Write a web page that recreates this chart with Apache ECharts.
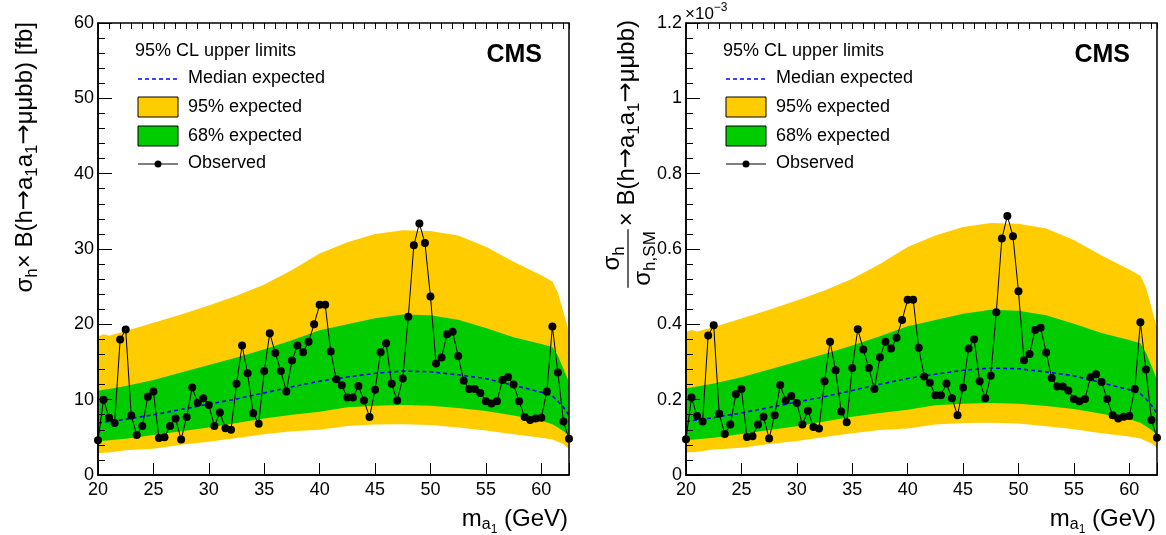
<!DOCTYPE html>
<html>
<head>
<meta charset="utf-8">
<script src="https://cdn.jsdelivr.net/npm/echarts@6/dist/echarts.min.js"></script>
<style>
html,body{margin:0;padding:0;background:#fff;}
#chart{width:1166px;height:535px;}
</style>
</head>
<body>
<div id="chart"></div>
<script>
// ---------------- data ----------------
const massPoints = [20,20.5,21,21.5,22,22.5,23,23.5,24,24.5,25,25.5,26,26.5,27,27.5,28,28.5,29,29.5,
  30,30.5,31,31.5,32,32.5,33,33.5,34,34.5,35,35.5,36,36.5,37,37.5,38,38.5,39,39.5,
  40,40.5,41,41.5,42,42.5,43,43.5,44,44.5,45,45.5,46,46.5,47,47.5,48,48.5,49,49.5,
  50,50.5,51,51.5,52,52.5,53,53.5,54,54.5,55,55.5,56,56.5,57,57.5,58,58.5,59,59.5,
  60,60.5,61,61.5,62,62.5];
// observed 95% CL upper limit, fb
const observedFb = [4.6,10.0,7.6,6.9,18.0,19.3,7.9,5.3,6.5,10.4,11.1,4.9,5.0,6.5,7.5,4.7,7.7,11.6,9.6,10.2,
  9.3,6.5,8.3,6.2,6.0,12.1,17.2,13.5,8.2,6.8,13.8,18.8,16.2,13.8,11.1,15.2,17.2,16.3,17.7,20.0,
  22.6,22.6,16.4,12.7,11.9,10.3,10.3,11.8,9.9,7.7,11.3,16.3,17.5,12.1,9.9,12.8,21.0,30.5,33.4,30.8,
  23.7,14.8,15.6,18.7,19.0,15.8,12.5,11.4,11.4,10.9,9.8,9.5,9.8,12.6,13.0,12.0,9.8,7.7,7.3,7.5,
  7.6,11.1,19.7,13.6,7.1,4.8];
// expected bands, fb
const bandMass   = [20,20.5,21,22.5,25,27.5,30,32.5,35,37.5,40,42.5,45,47.5,50,52.5,55,57.5,60,61,61.5,62,62.5];
const up95Fb     = [18.4,18.7,18.5,19.1,20.2,21.3,22.5,23.8,25.3,27.2,29.4,30.9,32.0,32.5,32.4,31.8,30.3,28.3,26.5,25.7,24.2,21.6,19.0];
const up68Fb     = [11.2,11.3,11.4,11.8,12.6,13.6,14.6,15.6,16.7,17.9,19.2,20.0,20.8,21.3,21.2,20.6,19.5,18.3,17.4,17.0,15.8,14.1,12.3];
const medianFb   = [6.9,7.0,7.1,7.4,8.0,8.7,9.4,10.1,10.9,11.7,12.45,13.0,13.5,13.8,13.7,13.3,12.8,11.9,11.0,10.5,9.8,9.0,7.9];
const down68Fb   = [4.5,4.55,4.6,4.8,5.3,5.8,6.3,6.9,7.5,8.0,8.4,9.0,9.2,9.3,9.2,8.9,8.5,7.9,7.2,6.75,6.3,5.8,5.2];
const down95Fb   = [2.9,2.95,3.0,3.3,3.5,4.0,4.4,4.9,5.4,5.8,6.0,6.5,6.7,6.75,6.65,6.3,5.9,5.4,4.95,4.7,4.4,4.1,3.5];
// SM Higgs cross section in fb; right panel is sigma/sigma_SM in units of 1e-3
const SIGMA_SM_FB = 48.58;
const RIGHT_SCALE = 1 / SIGMA_SM_FB;

const legendTexts = ['95% CL upper limits','Median expected','95% expected','68% expected','Observed'];

// ---------------- styling ----------------
const FONT = '"Liberation Sans", Arial, Helvetica, "DejaVu Sans", sans-serif';
const ARROW_FONT = '"DejaVu Sans", sans-serif';
const YELLOW = '#FFCC00', GREEN = '#00CC00', BLUE = '#0000FF';

const mctx = document.createElement('canvas').getContext('2d');
function measure(t, size, weight, fam) {
  mctx.font = (weight || 'normal') + ' ' + size + 'px ' + (fam || FONT);
  return mctx.measureText(t).width;
}
function textEl(t, x, y, size, opts) {
  opts = opts || {};
  return {
    type: 'text', x: x, y: y, silent: true, z: 100,
    style: {
      text: t, fill: '#000', fontSize: size, fontFamily: opts.fam || FONT,
      fontWeight: opts.weight || 'normal',
      align: opts.align || 'left', textAlign: opts.align || 'left',
      verticalAlign: 'middle', textVerticalAlign: 'middle'
    }
  };
}
function richLine(pieces, x0, y0, align) {
  const w = pieces.reduce((s, p) => s + measure(p.t, p.s, null, p.f), 0);
  let x = align === 'right' ? x0 - w : (align === 'center' ? x0 - w / 2 : x0);
  const out = [];
  pieces.forEach(p => {
    out.push(textEl(p.t, x, y0 + (p.dy || 0), p.s, { fam: p.f }));
    x += measure(p.t, p.s, null, p.f);
  });
  return { els: out, width: w };
}
function pairs(xs, ys, k) { return xs.map((x, i) => [x, ys[i] * k]); }

function panelSeries(p, k) {
  const areas = [[up95Fb, YELLOW], [up68Fb, GREEN], [down68Fb, YELLOW], [down95Fb, '#FFFFFF']];
  const s = areas.map(a => ({
    type: 'line', xAxisIndex: p, yAxisIndex: p, data: pairs(bandMass, a[0], k),
    symbol: 'none', showSymbol: false, silent: true, smooth: false,
    lineStyle: { width: 0 }, areaStyle: { color: a[1], opacity: 1 }, z: 2
  }));
  s.push({
    type: 'line', xAxisIndex: p, yAxisIndex: p, data: pairs(bandMass, medianFb, k),
    symbol: 'none', showSymbol: false, silent: true,
    lineStyle: { color: BLUE, width: 1.6, type: [4, 3] }, z: 3
  });
  s.push({
    type: 'line', xAxisIndex: p, yAxisIndex: p, data: pairs(massPoints, observedFb, k),
    symbol: 'circle', symbolSize: 8, showSymbol: true, clip: false, silent: true,
    lineStyle: { color: '#000', width: 1 }, itemStyle: { color: '#000' }, z: 4
  });
  return s;
}

function majorX(g) {
  return {
    type: 'value', gridIndex: g, min: 20, max: 62.5, interval: 5, z: 10,
    axisLine: { show: true, lineStyle: { color: '#000', width: 1.5 } },
    axisTick: { show: true, inside: true, length: 12, lineStyle: { color: '#000', width: 1 } },
    axisLabel: { color: '#000', fontSize: 18, fontFamily: FONT, margin: 6,
      formatter: v => (v % 5 === 0 && v <= 60) ? String(v) : '' },
    splitLine: { show: false }
  };
}
function minorX(g) {
  return {
    type: 'value', gridIndex: g, min: 20, max: 62.5, interval: 1, z: 10,
    axisLine: { show: false }, axisLabel: { show: false },
    axisTick: { show: true, inside: true, length: 6, lineStyle: { color: '#000', width: 1 } },
    splitLine: { show: false }
  };
}
function yAx(g, max, interval) {
  return {
    type: 'value', gridIndex: g, min: 0, max: max, interval: interval, z: 10,
    axisLine: { show: true, lineStyle: { color: '#000', width: 1.5 } },
    axisTick: { show: true, inside: true, length: 14, lineStyle: { color: '#000', width: 1 } },
    minorTick: { show: true, splitNumber: 5, length: 7, lineStyle: { color: '#000', width: 1 } },
    axisLabel: { color: '#000', fontSize: 18, fontFamily: FONT, margin: 4 },
    splitLine: { show: false }, minorSplitLine: { show: false }
  };
}

// ---------------- annotations ----------------
const graphics = [];
function legend(off) {
  graphics.push(textEl(legendTexts[0], 135 + off, 51, 18));
  graphics.push({ type: 'line', silent: true, z: 100, shape: { x1: 138 + off, y1: 79, x2: 178 + off, y2: 79 },
    style: { stroke: BLUE, lineWidth: 1.6, lineDash: [4, 3] } });
  graphics.push(textEl(legendTexts[1], 188 + off, 78, 18));
  graphics.push({ type: 'rect', silent: true, z: 100, shape: { x: 138 + off, y: 97, width: 40, height: 20 },
    style: { fill: YELLOW, stroke: '#000', lineWidth: 1 } });
  graphics.push(textEl(legendTexts[2], 188 + off, 107, 18));
  graphics.push({ type: 'rect', silent: true, z: 100, shape: { x: 138 + off, y: 126, width: 40, height: 20 },
    style: { fill: GREEN, stroke: '#000', lineWidth: 1 } });
  graphics.push(textEl(legendTexts[3], 188 + off, 136, 18));
  graphics.push({ type: 'line', silent: true, z: 100, shape: { x1: 138 + off, y1: 164, x2: 178 + off, y2: 164 },
    style: { stroke: '#000', lineWidth: 1 } });
  graphics.push({ type: 'circle', silent: true, z: 100, shape: { cx: 158 + off, cy: 164, r: 3.5 },
    style: { fill: '#000' } });
  graphics.push(textEl(legendTexts[4], 188 + off, 163, 18));
  graphics.push(textEl('CMS', 542 + off, 55, 25, { weight: 'bold', align: 'right' }));
  // x-axis title
  const xt = richLine([{ t: 'm', s: 24 }, { t: 'a', s: 16, dy: 6 }, { t: '1', s: 12, dy: 11 }, { t: ' (GeV)', s: 24 }],
    568 + off, 519, 'right');
  xt.els.forEach(e => graphics.push(e));
}
legend(0);
legend(588);

const ARW = { t: '→', s: 24, f: ARROW_FONT };
// left y title (rotated, aligned to top of axis)
(function () {
  const pieces = [
    { t: 'σ', s: 24 }, { t: 'h', s: 17, dy: 7 }, { t: '× B(h', s: 24 }, ARW, { t: 'a', s: 24 }, { t: '1', s: 17, dy: 7 },
    { t: 'a', s: 24 }, { t: '1', s: 17, dy: 7 }, ARW, { t: 'μμbb) [fb]', s: 24 }
  ];
  const r = richLine(pieces, 0, 0, 'right');
  graphics.push({ type: 'group', x: 25, y: 22, rotation: Math.PI / 2, children: r.els });
})();

// right y title with fraction
(function () {
  const num = [{ t: 'σ', s: 24 }, { t: 'h', s: 17, dy: 7 }];
  const den = [{ t: 'σ', s: 24 }, { t: 'h,SM', s: 17, dy: 7 }];
  const denW = den.reduce((s, p) => s + measure(p.t, p.s), 0);
  const fw = denW + 4;
  const rest = [{ t: '× B(h', s: 24 }, ARW, { t: 'a', s: 24 }, { t: '1', s: 17, dy: 7 }, { t: 'a', s: 24 },
    { t: '1', s: 17, dy: 7 }, ARW, { t: 'μμbb)', s: 24 }];
  const restW = rest.reduce((s, p) => s + measure(p.t, p.s, null, p.f), 0);
  const total = fw + 3 + restW;
  const children = [];
  richLine(num, fw / 2, -15, 'center').els.forEach(e => children.push(e));
  richLine(den, fw / 2, 16, 'center').els.forEach(e => children.push(e));
  children.push({ type: 'line', silent: true, shape: { x1: 0, y1: 1, x2: fw, y2: 1 }, style: { stroke: '#000', lineWidth: 1.2 } });
  richLine(rest, fw + 3, 0, 'left').els.forEach(e => children.push(e));
  graphics.push({ type: 'group', x: 627, y: 20 + total, rotation: Math.PI / 2, children: children });
})();

// x10^-3 exponent label of right panel
richLine([{ t: '×10', s: 17 }, { t: '−3', s: 12, dy: -6 }], 685, 14, 'left').els.forEach(e => graphics.push(e));

// ---------------- chart ----------------
const chart = echarts.init(document.getElementById('chart'), null, { renderer: 'canvas' });
chart.setOption({
  animation: false,
  backgroundColor: '#ffffff',
  textStyle: { fontFamily: FONT },
  grid: [
    { left: 98, top: 23, width: 471, height: 452, show: true, borderColor: '#000', borderWidth: 1.5, backgroundColor: 'transparent', z: 10 },
    { left: 686, top: 23, width: 471, height: 452, show: true, borderColor: '#000', borderWidth: 1.5, backgroundColor: 'transparent', z: 10 }
  ],
  xAxis: [majorX(0), majorX(1), minorX(0), minorX(1)],
  yAxis: [yAx(0, 60, 10), yAx(1, 1.2, 0.2)],
  series: panelSeries(0, 1).concat(panelSeries(1, RIGHT_SCALE)),
  graphic: graphics
});
</script>
</body>
</html>
